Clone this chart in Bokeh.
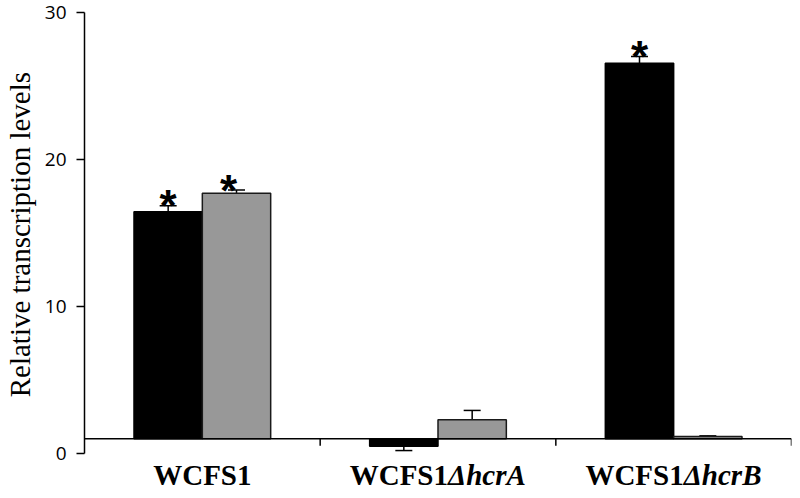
from bokeh.plotting import figure
from bokeh.models import Range1d, ColumnDataSource, Whisker, FixedTicker, TeeHead
from bokeh.core.properties import value
from bokeh.embed import file_html
from bokeh.resources import INLINE

categories = ["WCFS1", "WCFS1\u0394hcrA", "WCFS1\u0394hcrB"]
label_main = ["WCFS1", "WCFS1", "WCFS1"]
label_ital = ["", "\u0394hcrA", "\u0394hcrB"]
black_vals = [16.45, 0.5, 26.55]
black_err = [0.4, 0.3, 0.45]
gray_vals = [17.7, 2.3, 1.15]
gray_err = [0.22, 0.63, 0.05]
black_sig = [True, False, True]
gray_sig = [True, False, False]
y_ticks = [0, 10, 20, 30]
baseline = 1.0

W = 792
H = 490
top_px = 12
zero_px = 453
px_per_unit = (zero_px - top_px) / 30.0
y_lo = -(H - zero_px) / px_per_unit
y_hi = 30 + top_px / px_per_unit

p = figure(width=W, height=H, output_backend="svg", toolbar_location=None,
           x_range=Range1d(0, 3), y_range=Range1d(y_lo, y_hi),
           min_border_left=80, min_border_right=1, min_border_top=0, min_border_bottom=0)
p.xaxis.visible = False
p.xgrid.visible = False
p.ygrid.visible = False
p.outline_line_color = None

n = len(categories)
bw = 0.29
cx = [i + 0.5 for i in range(n)]
bx = [c - bw / 2 for c in cx]
gx = [c + bw / 2 for c in cx]

src_b = ColumnDataSource(dict(x=bx, top=black_vals, lo=[v - e for v, e in zip(black_vals, black_err)],
                              hi=[v + e for v, e in zip(black_vals, black_err)]))
src_g = ColumnDataSource(dict(x=gx, top=gray_vals, lo=[v - e for v, e in zip(gray_vals, gray_err)],
                              hi=[v + e for v, e in zip(gray_vals, gray_err)]))

p.vbar(x="x", top="top", bottom=baseline, width=bw, source=src_b, fill_color="#000000", line_color="#000000", line_width=1.5)
p.vbar(x="x", top="top", bottom=baseline, width=bw, source=src_g, fill_color="#989898", line_color="#1a1a1a", line_width=1.5)

for src in (src_b, src_g):
    w = Whisker(base="x", upper="hi", lower="lo", source=src, line_color="black", line_width=1.5,
                upper_head=TeeHead(size=17, line_width=1.5, line_color="black"),
                lower_head=TeeHead(size=17, line_width=1.5, line_color="black"))
    p.add_layout(w)

# baseline and category ticks
p.line(x=[0, n], y=[baseline, baseline], line_color="black", line_width=1.5)
tick_len = 7 / px_per_unit
p.segment(x0=list(range(1, n + 1)), x1=list(range(1, n + 1)), y0=[baseline] * n,
          y1=[baseline - tick_len] * n, line_color="black", line_width=1.5)

# significance asterisks
ax, ay, aoff = [], [], []
for i in range(n):
    if black_sig[i]:
        ax.append(bx[i]); ay.append(black_vals[i] + black_err[i]); aoff.append(0)
    if gray_sig[i]:
        ax.append(gx[i]); ay.append(gray_vals[i] + gray_err[i]); aoff.append(-8)
p.text(x=ax, y=ay, text=["*"] * len(ax), x_offset=aoff, y_offset=0, text_align="center",
       text_baseline="alphabetic", text_font=value("Liberation Sans"), text_font_size="44px",
       text_font_style="bold", text_color="black")

# y axis
ya = p.yaxis[0]
ya.bounds = (y_ticks[0], y_ticks[-1])
ya.ticker = FixedTicker(ticks=y_ticks)
ya.minor_tick_line_color = None
ya.major_tick_in = 0
ya.major_tick_out = 8
ya.major_label_standoff = 10
ya.axis_line_width = 1.5
ya.major_tick_line_width = 1.5
ya.axis_line_color = "black"
ya.major_tick_line_color = "black"
ya.major_label_text_font = "Open Sans"
ya.major_label_text_font_size = "19px"
ya.major_label_text_color = "black"
ya.axis_label = "\u00a0\u00a0\u00a0Relative transcription levels"
ya.axis_label_text_font = "Liberation Serif"
ya.axis_label_text_font_style = "normal"
ya.axis_label_text_font_size = "29px"
ya.axis_label_text_color = "black"
ya.axis_label_standoff = 6

# category labels
lab_y = -21 / px_per_unit
single = [i for i in range(n) if not label_ital[i]]
split = [i for i in range(n) if label_ital[i]]
common = dict(text_baseline="alphabetic", text_font=value("Liberation Serif"),
              text_font_size="29px", text_color="black")
p.text(x=[cx[i] for i in single], y=[lab_y] * len(single), text=[label_main[i] for i in single],
       text_align="center", text_font_style="bold", **common)
p.text(x=[cx[i] for i in split], y=[lab_y] * len(split), text=[label_main[i] for i in split],
       x_offset=10, text_align="right", text_font_style="bold", **common)
p.text(x=[cx[i] for i in split], y=[lab_y] * len(split), text=[label_ital[i] for i in split],
       x_offset=10, text_align="left", text_font_style="bold italic", **common)

open("out.html", "w").write(file_html(p, INLINE))
